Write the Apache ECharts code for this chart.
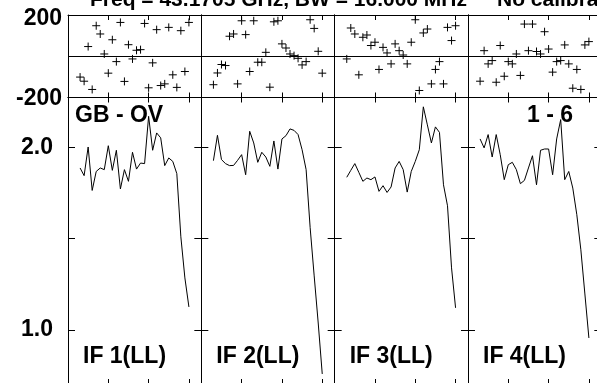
<!DOCTYPE html>
<html lang="en">
<head>
    <meta charset="UTF-8">
    <title>GB - OV bandpass</title>
    <script src="https://cdn.jsdelivr.net/npm/echarts@6/dist/echarts.min.js"></script>
    <style>html,body{margin:0;padding:0;background:#fff;}</style>
</head>
<body>
<div id="main" style="width:597px;height:383px;"></div>

<script type="text/javascript">
    // channels 3..30, one point per channel in every IF
    var channels = [3,4,5,6,7,8,9,10,11,12,13,14,15,16,17,18,19,20,21,22,23,24,25,26,27,28,29,30];

    var ampIF1 = [1.887,1.845,2.002,1.764,1.868,1.887,1.878,2.009,1.874,1.984,1.772,1.878,1.814,1.973,1.881,1.914,1.911,2.170,1.984,2.079,2.052,1.900,1.942,1.923,1.856,1.510,1.285,1.126];
    var ampIF2 = [1.927,2.066,1.933,1.911,1.900,1.901,1.929,1.960,1.850,2.088,2.024,1.918,1.973,1.947,1.896,2.035,1.881,2.046,2.064,2.101,2.093,2.070,1.987,1.878,1.560,1.296,1.038,0.759];
    var ampIF3 = [1.836,1.874,1.911,1.863,1.814,1.832,1.823,1.838,1.759,1.790,1.753,1.783,1.887,1.923,1.878,1.755,1.868,1.923,1.987,2.222,2.123,2.024,2.112,2.082,1.795,1.680,1.340,1.121];
    var ampIF4 = [2.046,1.997,2.070,1.947,2.070,1.960,1.823,1.905,1.918,1.878,1.801,1.819,1.887,1.954,1.795,1.984,1.991,1.991,1.850,2.046,2.152,1.823,1.868,1.777,1.631,1.439,1.197,0.956];

    var phaseIF1 = [-101,-121,47,-161,148,108,11,-82,80,-26,164,-122,56,-13,29,32,159,-153,-32,129,-142,-134,140,-90,-151,124,-74,164];
    var phaseIF2 = [-138,-81,-40,-45,97,108,-134,172,105,-74,172,-29,-29,19,-150,167,172,60,40,11,3,-10,-42,-26,177,135,24,-82];
    var phaseIF3 = [-13,137,108,-90,92,103,52,68,-64,43,16,-37,60,27,6,-37,68,177,-166,113,132,-134,-64,-26,-134,140,76,148];
    var phaseIF4 = [-121,27,-37,-21,-126,52,-97,-26,-37,11,-93,156,27,156,23,11,119,35,-77,-26,-21,55,-37,-155,-64,-161,55,71];

    var ifNames = ['IF 1(LL)', 'IF 2(LL)', 'IF 3(LL)', 'IF 4(LL)'];
    var chanTicks = [10, 20, 30];
    var phaseTicks = [-200, 0, 200];
    var phaseLabels = [-200, 200];
    var ampTicks = [1.0, 1.5, 2.0];
    var ampLabels = [1.0, 2.0];

    var amps = [ampIF1, ampIF2, ampIF3, ampIF4];
    var phases = [phaseIF1, phaseIF2, phaseIF3, phaseIF4];

    var myChart = echarts.init(document.getElementById('main'));

    var font = 'Liberation Sans, Arial, sans-serif';
    var left0 = 68, panelW = 133.33;
    var phaseTop = 15, phaseH = 82.5;
    var ampTop = 97.5, ampH = 286.5;

    var grids = [], xAxes = [], yAxes = [], series = [], graphics = [];

    function xAx(g, pos) {
        return {
            type: 'value', gridIndex: g, position: pos, min: 0, max: 33.08,
            axisLine: {show: true, onZero: false, lineStyle: {color: '#000', width: 1}},
            axisTick: {show: true, inside: true, length: 5, customValues: chanTicks, lineStyle: {color: '#000'}},
            axisLabel: {show: false},
            splitLine: {show: false}
        };
    }

    function yAx(g, pos, kind, withLabels) {
        var ax = {
            type: 'value', gridIndex: g, position: pos,
            axisLine: {show: true, onZero: false, lineStyle: {color: '#000', width: 1}},
            axisTick: {show: true, inside: true, length: 7, lineStyle: {color: '#000'}},
            axisLabel: {show: withLabels, color: '#000', fontFamily: font, fontWeight: 'bold', fontSize: 23},
            splitLine: {show: false}
        };
        if (kind === 'phase') {
            ax.min = -200; ax.max = 200;
            ax.axisTick.customValues = phaseTicks;
            ax.axisLabel.customValues = phaseLabels;
            ax.axisLabel.margin = 6;
            ax.axisLabel.formatter = function (v) {
                return v > 0 ? '{t|' + v + '}' : '{b|' + v + '}';
            };
            ax.axisLabel.rich = {
                t: {padding: [7, 0, 0, 0], fontFamily: font, fontWeight: 'bold', fontSize: 23, color: '#000'},
                b: {padding: [2, 0, 0, 0], fontFamily: font, fontWeight: 'bold', fontSize: 23, color: '#000'}
            };
        } else {
            ax.min = 0.704; ax.max = 2.273;
            ax.axisTick.customValues = ampTicks;
            ax.axisLabel.customValues = ampLabels;
            ax.axisLabel.margin = 15;
            ax.axisLabel.formatter = function (v) { return v.toFixed(1); };
        }
        return ax;
    }

    for (var i = 0; i < 4; i++) {
        var x = left0 + i * panelW;
        grids.push({left: x, top: phaseTop, width: panelW, height: phaseH, outerBoundsMode: 'none'});
        grids.push({left: x, top: ampTop, width: panelW, height: ampH, outerBoundsMode: 'none'});

        xAxes.push(xAx(2 * i, 'bottom'), xAx(2 * i, 'top'), xAx(2 * i + 1, 'bottom'), xAx(2 * i + 1, 'top'));
        yAxes.push(yAx(2 * i, 'left', 'phase', i === 0), yAx(2 * i, 'right', 'phase', false),
                   yAx(2 * i + 1, 'left', 'amp', i === 0), yAx(2 * i + 1, 'right', 'amp', false));

        var ph = phases[i], am = amps[i];
        series.push({
            type: 'scatter', xAxisIndex: 4 * i, yAxisIndex: 4 * i,
            data: channels.map(function (c, k) { return [c, ph[k]]; }),
            symbol: 'path://M0,5L10,5M5,0L5,10', symbolSize: 8,
            itemStyle: {color: 'none', borderColor: '#000', borderWidth: 1, opacity: 1},
            markLine: {
                silent: true, symbol: 'none', label: {show: false},
                lineStyle: {color: '#000', width: 1, type: 'solid'},
                data: [{yAxis: 0}]
            }
        });
        series.push({
            type: 'line', xAxisIndex: 4 * i + 2, yAxisIndex: 4 * i + 2,
            data: channels.map(function (c, k) { return [c, am[k]]; }),
            showSymbol: false, symbol: 'none',
            lineStyle: {color: '#000', width: 1}
        });

        graphics.push({
            type: 'text', left: x + 15, top: 357 - 11.5,
            style: {text: ifNames[i], fill: '#000', font: 'bold 23px ' + font}
        });
    }

    graphics.push({type: 'text', left: 75, top: 116 - 11.5, style: {text: 'GB - OV', fill: '#000', font: 'bold 23px ' + font}});
    graphics.push({type: 'text', right: 24, top: 116 - 11.5, style: {text: '1 - 6', fill: '#000', font: 'bold 23px ' + font}});
    graphics.push({type: 'text', left: 90, top: -10, style: {text: 'Freq = 43.1705 GHz, BW = 16.000 MHz', fill: '#000', font: 'bold 21px ' + font}});
    graphics.push({type: 'text', left: 497, top: -10, style: {text: 'No calibration', fill: '#000', font: 'bold 21px ' + font}});

    var option = {
        animation: false,
        backgroundColor: '#fff',
        grid: grids,
        xAxis: xAxes,
        yAxis: yAxes,
        series: series,
        graphic: graphics
    };
    myChart.setOption(option);
</script>
</body>
</html>
